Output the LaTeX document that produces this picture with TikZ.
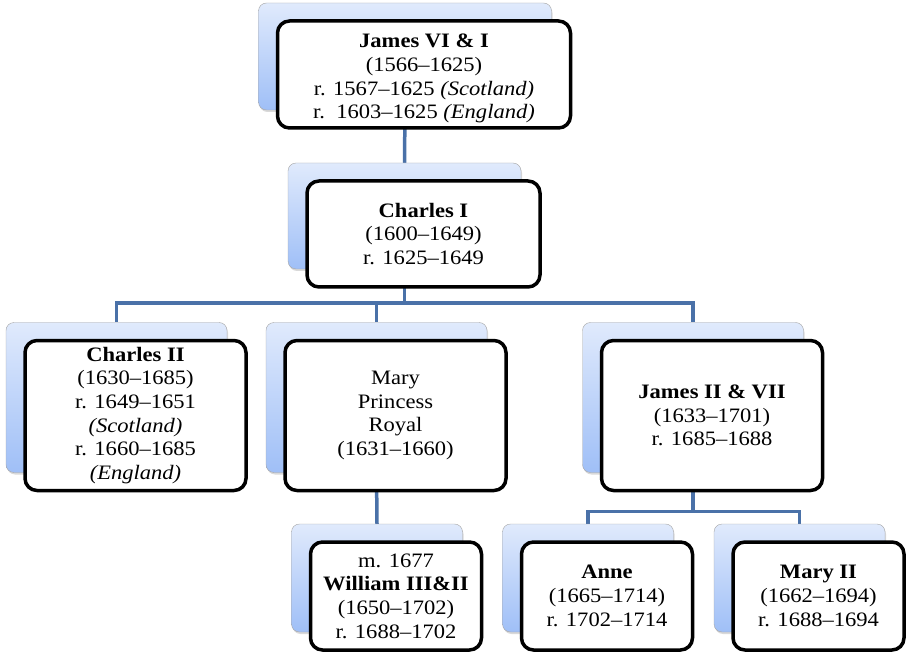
\documentclass[tikz,border=0pt]{standalone}
\usepackage{fontspec}
\setmainfont{Liberation Serif}[FakeStretch=1.1]
\definecolor{TOPBLUE}{HTML}{E0EAFC}
\definecolor{LOWBLUE}{HTML}{9FBFF7}
\definecolor{LINK}{HTML}{4A71A8}
\usetikzlibrary{shadows,positioning,calc,backgrounds}

\begin{document}
\begin{tikzpicture}
[x=1pt, y=-1pt,
back/.style={rectangle, draw=gray!70, top color=TOPBLUE, bottom color=LOWBLUE,
rounded corners=8pt, drop shadow={opacity=.3, shadow xshift=1pt, shadow yshift=-2pt}},
card/.style={rectangle, draw=black, line width=3.5pt, fill=white, rounded corners=12pt,
align=center, font=\fontsize{20.5}{23.7}\selectfont},
big/.style={minimum width=293pt, minimum height=107pt},
mid/.style={minimum width=233pt, minimum height=106pt},
tall/.style={minimum width=221pt, minimum height=150pt},
small/.style={minimum width=171pt, minimum height=108pt},
link/.style={line width=3.5pt, LINK}]
\useasboundingbox (0,0) rectangle (911,655);
\node[back,big] (Jb) at (405,56.5) {};
\node[card,big] (J) at ($(Jb)+(19,18)$) {\rule{0pt}{22pt}\textbf{James VI \& I}\\(1566--1625)\\r. 1567--1625 \textit{(Scotland)}\\r.\ \ 1603--1625 \textit{(England)}};
\node[back,mid] (Cb) at (404.5,216) {};
\node[card,mid] (C) at ($(Cb)+(19,18)$) {\textbf{Charles I}\\(1600--1649)\\r. 1625--1649};
\node[back,tall] (C2b) at (116.5,397.5) {};
\node[card,tall] (C2) at ($(C2b)+(19,18)$) {\textbf{Charles II}\\(1630--1685)\\r. 1649--1651\\\textit{(Scotland)}\\r. 1660--1685\\\textit{(England)}};
\node[back,tall] (MPb) at (376.5,397.5) {};
\node[card,tall] (MP) at ($(MPb)+(19,18)$) {Mary\\Princess\\Royal\\(1631--1660)};
\node[back,tall] (J2b) at (693,397.5) {};
\node[card,tall] (J2) at ($(J2b)+(19,18)$) {\textbf{James II \& VII}\\(1633--1701)\\r. 1685--1688};
\node[back,small] (Wb) at (377,578) {};
\node[card,small] (W) at ($(Wb)+(19,18)$) {m. 1677\\\textbf{William III\&II}\\(1650--1702)\\r. 1688--1702};
\node[back,small] (Ab) at (588,578) {};
\node[card,small] (A) at ($(Ab)+(19,18)$) {\textbf{Anne}\\(1665--1714)\\r. 1702--1714};
\node[back,small] (M2b) at (799.5,578) {};
\node[card,small] (M2) at ($(M2b)+(19,18)$) {\textbf{Mary II}\\(1662--1694)\\r. 1688--1694};
% connectors behind the boxes
\begin{scope}[on background layer]
\draw[link] (Jb.south) -- (Cb.north);
\draw[link] (Cb.south) -- ++(0,34) -| (C2b.north);
\draw[link] (Cb.south) -- ++(0,34) -| (MPb.north);
\draw[link] (Cb.south) -- ++(0,34) -| (J2b.north);
\draw[link] (MPb.south) -- (Wb.north);
\draw[link] (J2b.south) -- ++(0,39) -| (Ab.north);
\draw[link] (J2b.south) -- ++(0,39) -| (M2b.north);
\end{scope}
\end{tikzpicture}
\end{document}
